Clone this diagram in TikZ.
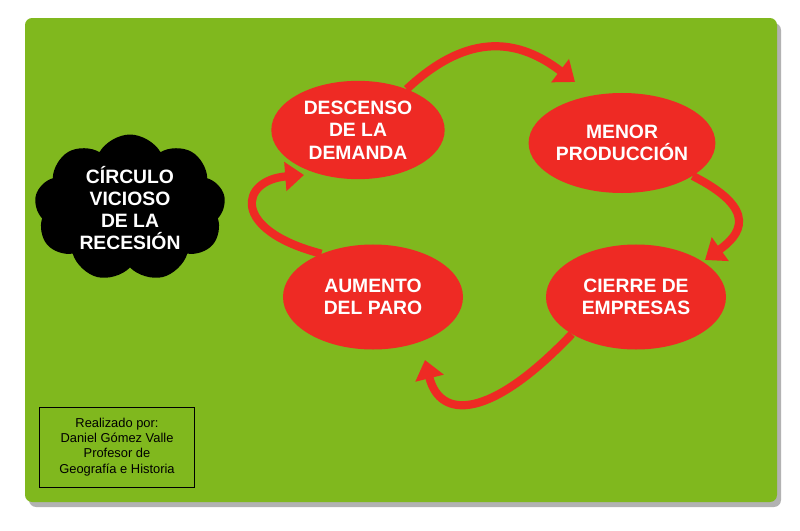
\documentclass[tikz,border=0pt]{standalone}
\usepackage{fontspec}
\setmainfont{Liberation Sans}
\usetikzlibrary{shapes.symbols,shapes.geometric,arrows.meta}
\definecolor{fondo}{RGB}{128,184,30}
\definecolor{rojo}{RGB}{238,42,36}
\tikzset{
  etapa/.style={ellipse, fill=rojo, text=white, font=\bfseries\fontsize{16.5}{19}\selectfont, align=center, inner sep=0pt},
  flecha/.style={draw=rojo, line width=7pt, -{Triangle[length=16pt,width=24pt]}},
}
\begin{document}
\begin{tikzpicture}[x=0.03cm,y=-0.03cm]
	% field
	\useasboundingbox (0,0) rectangle (800,531);
	\fill [white] (0,0) rectangle (800,531);
	\fill [gray!60, rounded corners=6pt] (29,23) rectangle (781,507);
	\fill [fondo, rounded corners=6pt] (25,18) rectangle (777,502);
	
	% stages
	\node [etapa, minimum width=5.2cm, minimum height=2.95cm] (demanda) at (358,130) {DESCENSO\\DE LA\\DEMANDA};
	\node [etapa, minimum width=5.4cm, minimum height=3cm] (produccion) at (622,143) {MENOR\\PRODUCCIÓN};
	\node [etapa, minimum width=5.4cm, minimum height=3.15cm] (cierre) at (636,297) {CIERRE DE\\EMPRESAS};
	\node [etapa, minimum width=5.4cm, minimum height=3.15cm] (paro) at (373,297) {AUMENTO\\DEL PARO};
	
	% cloud
	\node [cloud, cloud puffs=9, cloud puff arc=120, aspect=1.5, fill=black, text=white, font=\bfseries\fontsize{16.5}{19}\selectfont, align=center, minimum width=5.7cm, minimum height=3.7cm, inner sep=0pt] (titulo) at (130,208) {CÍRCULO\\VICIOSO\\DE LA\\RECESIÓN};
	
	% arrows
	\draw [flecha] (demanda.40) .. controls (470,30) and (520,40) .. (575,82);
	\draw [flecha] (produccion.-25) .. controls (760,210) and (740,235) .. (705,260);
	\draw [flecha] (cierre.-150) .. controls (490,420) and (440,420) .. (425,360);
	\draw [flecha] (paro.140) .. controls (230,230) and (240,180) .. (304,175);
	
	% credits
	\node [draw=black, thick, minimum width=4.65cm, minimum height=2.4cm, align=center, font=\fontsize{11}{13}\selectfont] (autor) at (117,447) {Realizado por:\\Daniel Gómez Valle\\Profesor de\\Geografía e Historia};
\end{tikzpicture}
\end{document}
